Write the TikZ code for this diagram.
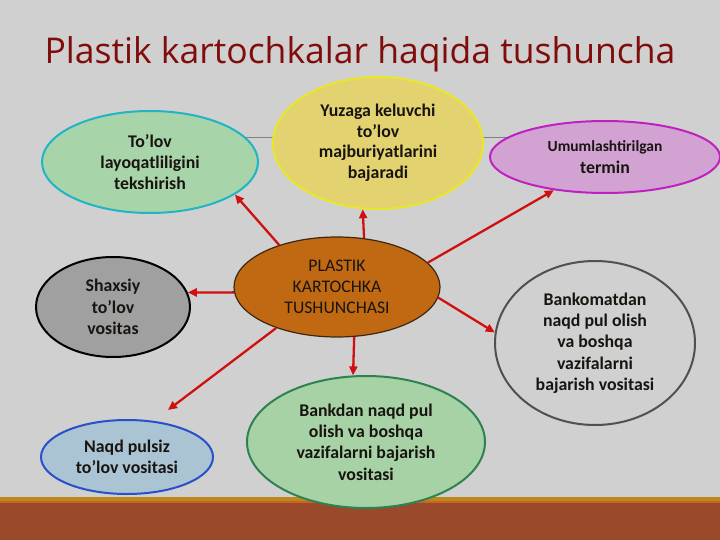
\documentclass[tikz,border=0pt]{standalone}
\usepackage{fontspec}
\setmainfont{Carlito}
\newfontfamily\titlefont{Open Sans}
\usetikzlibrary{arrows.meta,shapes.geometric}
\definecolor{bg}{RGB}{208,208,208}
\definecolor{titlered}{RGB}{128,12,12}
\definecolor{arrowred}{RGB}{208,16,16}
\definecolor{tealfill}{RGB}{168,212,170}
\definecolor{tealline}{RGB}{32,180,196}
\definecolor{yelfill}{RGB}{226,210,112}
\definecolor{yelline}{RGB}{232,232,40}
\definecolor{purfill}{RGB}{210,162,210}
\definecolor{purline}{RGB}{192,32,192}
\definecolor{orafill}{RGB}{192,105,18}
\definecolor{oraline}{RGB}{60,40,16}
\definecolor{greyfill}{RGB}{160,160,160}
\definecolor{grnfill}{RGB}{166,210,166}
\definecolor{grnline}{RGB}{46,130,80}
\definecolor{bluefill}{RGB}{170,196,212}
\definecolor{blueline}{RGB}{40,80,200}
\definecolor{bkline}{RGB}{80,80,80}
\definecolor{brown}{RGB}{154,74,42}
\definecolor{gold}{RGB}{190,136,26}
\definecolor{stripe}{RGB}{200,100,40}
\definecolor{txt}{RGB}{24,20,16}
\tikzset{
  bubble/.style={ellipse, line width=2pt, inner sep=0pt, align=center,
    text=txt, font=\bfseries\fontsize{17.8}{21.3}\selectfont},
  link/.style={draw=arrowred, line width=2.3pt, -{Triangle[length=9pt,width=8pt]}},
}
\begin{document}
\begin{tikzpicture}[x=1pt,y=-1pt]
\useasboundingbox (0,0) rectangle (720,540);
\fill[bg] (0,0) rectangle (720,540);
% bottom band
\fill[gold] (0,497) rectangle (720,501);
\fill[stripe] (0,501) rectangle (720,503);
\fill[brown] (0,503) rectangle (720,540);
% decorative line
\draw[gray, line width=0.8pt] (200,137) -- (560,137);
% title
\node[font=\titlefont\fontsize{35.5}{42}\selectfont, text=titlered] (title) at (360,54) {Plastik kartochkalar haqida tushuncha};
% nodes
\node[bubble, fill=tealfill, draw=tealline, minimum width=216pt, minimum height=102pt] (t) at (150,162) {To’lov\\layoqatliligini\\tekshirish};
\node[bubble, fill=yelfill, draw=yelline, minimum width=210pt, minimum height=132pt, font=\bfseries\fontsize{17.8}{20.5}\selectfont] (y) at (378,143) {Yuzaga keluvchi\\to’lov\\majburiyatlarini\\bajaradi};
\node[bubble, fill=purfill, draw=purline, minimum width=230pt, minimum height=72pt] (p) at (605,157) {{\fontsize{15.5}{20}\selectfont Umumlashtirilgan}\\termin};
\node[ellipse, fill=orafill, draw=oraline, line width=1.2pt, inner sep=0pt, align=center, text=txt, font=\fontsize{17.7}{21}\selectfont, minimum width=206pt, minimum height=100pt] (c) at (337,287) {PLASTIK\\KARTOCHKA\\TUSHUNCHASI};
\node[bubble, fill=greyfill, draw=black, minimum width=154pt, minimum height=100pt] (g) at (113,307) {Shaxsiy\\to’lov\\vositas};
\node[bubble, draw=bkline, minimum width=200pt, minimum height=164pt] (b) at (595,343) {Bankomatdan\\naqd pul olish\\va boshqa\\vazifalarni\\bajarish vositasi};
\node[bubble, fill=grnfill, draw=grnline, minimum width=238pt, minimum height=132pt] (d) at (366,442) {Bankdan naqd pul\\olish va boshqa\\vazifalarni bajarish\\vositasi};
\node[bubble, fill=bluefill, draw=blueline, minimum width=172pt, minimum height=74pt] (n) at (127,457) {Naqd pulsiz\\to’lov vositasi};
\coordinate (ne) at (168,410);
% connectors
\draw[link] (c.144) -- (t.-21);
\draw[link] (c.61) -- (y.-103);
\draw[link] (c.15) -- (p.-147);
\draw[link] (c.183) -- (g.11);
\draw[link] (c.-6) -- (b.174);
\draw[link] (c.-71) -- (d.101);
\draw[link] (c.-146) -- (ne);
\end{tikzpicture}
\end{document}
